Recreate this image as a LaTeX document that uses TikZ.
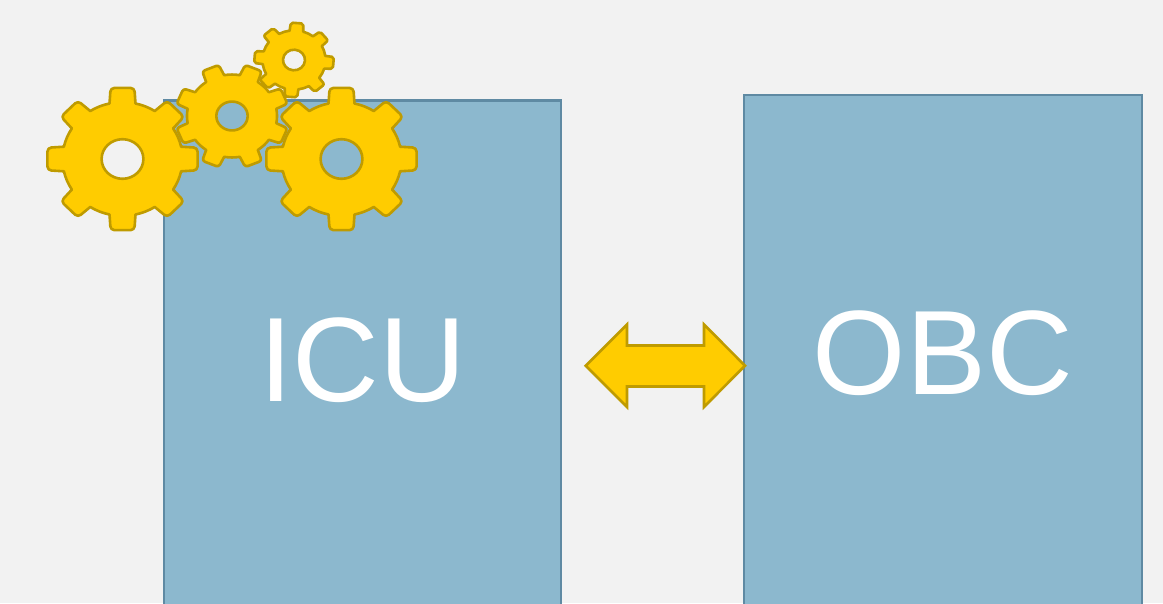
\documentclass[tikz,border=0pt]{standalone}
\usepackage{fontspec}
\setmainfont{Liberation Sans}
\definecolor{bgc}{HTML}{F2F2F2}
\definecolor{boxfill}{HTML}{8CB8CE}
\definecolor{boxline}{HTML}{5F8AA3}
\definecolor{goldf}{HTML}{FFCC00}
\definecolor{goldl}{HTML}{BF9B00}
\tikzset{
  x=1pt,y=-1pt,
  block/.style={draw=boxline,line width=2.4pt,fill=boxfill,text=white,inner sep=0pt,font=\fontsize{120}{120}\selectfont},
  goldshape/.style={draw=goldl,fill=goldf,line width=2.6pt,line join=round},
}
% #1 cx, #2 cy, #3 rx, #4 ry, #5 rotation, #6 hole radius (percent of tip radius)
\newcommand{\gearshape}[6]{%
  \begin{scope}[shift={(#1,#2)},xscale=#3/100,yscale=#4/100,rotate=#5]
    \path[goldshape,even odd rule]
      (-12.5:79)
      \foreach \k in {0,45,...,315}{
        [rounded corners=#3*0.05pt] -- (\k-9:100) -- (\k+9:100)
        [sharp corners] -- (\k+12.5:79)
        arc[start angle=\k+12.5,end angle=\k+32.5,radius=79]
      } -- cycle
      (0,0) circle[radius=#6];
  \end{scope}}
\begin{document}
\begin{tikzpicture}
  \useasboundingbox (0,0) rectangle (1163,603);
  \clip (0,0) rectangle (1163,603);
  \fill[bgc] (0,0) rectangle (1163,603);
  \node[block,minimum width=397pt,minimum height=520pt] (icu) at (362.5,360.5) {ICU};
  \node[block,minimum width=398pt,minimum height=516pt] (obc) at (943,353) {OBC};
  \path[goldshape,line join=miter]
    (585.7,365.7) -- (627,324.5) -- (627,345.5) -- (704,345.5) -- (704,324.5)
    -- (745,365.7) -- (704,407) -- (704,386.5) -- (627,386.5) -- (627,407) -- cycle;
  \gearshape{122.5}{159}{76}{72}{0}{27.5}
  \gearshape{294}{60}{40}{37.5}{-4.5}{27.5}
  \gearshape{232}{116}{57}{52.5}{22.5}{27.5}
  \gearshape{341.5}{159}{76}{72}{0}{27.5}
\end{tikzpicture}
\end{document}
